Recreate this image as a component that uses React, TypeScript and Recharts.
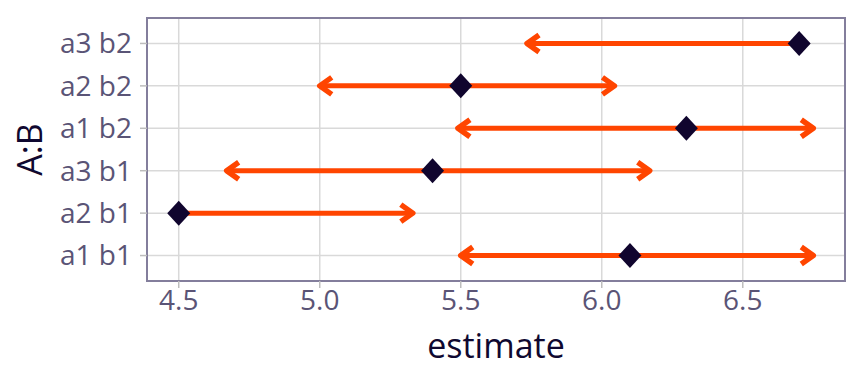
import {
  ScatterChart, Scatter, XAxis, YAxis, CartesianGrid, ReferenceArea,
} from 'recharts';

// rows from bottom (y = 1) to top (y = 6)
const rowLabels = ['a1 b1', 'a2 b1', 'a3 b1', 'a1 b2', 'a2 b2', 'a3 b2'];
const estimates = [6.1, 4.5, 5.4, 6.3, 5.5, 6.7];
// comparison arrow ends; null = no arrow on that side
const arrowLow: (number | null)[] = [5.5, null, 4.67, 5.49, 5.0, 5.735];
const arrowHigh: (number | null)[] = [6.75, 5.33, 6.17, 6.75, 6.045, null];

const xTicks = [4.5, 5.0, 5.5, 6.0, 6.5];
const yTicks = [1, 2, 3, 4, 5, 6];
const xDomain = [4.3875, 6.8625];
const yDomain = [0.4, 6.6];

const ARROW = '#ff4500';
const POINT = '#10052e';
const TEXT = '#5a5476';
const TITLE = '#0f0830';
const BORDER = '#837e9c';
const GRID = '#d9d9d9';
const FONT = '"Open Sans", sans-serif';

const pointData = estimates.map((x, i) => ({ x, y: i + 1 }));

const arrowRows = rowLabels.map((_, i) => {
  const y = i + 1;
  const lo = arrowLow[i];
  const hi = arrowHigh[i];
  return [
    lo == null ? { x: estimates[i], y, head: 'none' } : { x: lo, y, head: 'left' },
    hi == null ? { x: estimates[i], y, head: 'none' } : { x: hi, y, head: 'right' },
  ];
});

const ArrowHead = (props: any) => {
  const { cx, cy, payload } = props;
  if (!payload || payload.head === 'none') return <g />;
  const d = payload.head === 'left' ? 1 : -1;
  const len = 12;
  const half = 8.5;
  return (
    <polyline
      points={`${cx + d * len},${cy - half} ${cx},${cy} ${cx + d * len},${cy + half}`}
      fill="none"
      stroke={ARROW}
      strokeWidth={5.5}
      strokeLinejoin="round"
      strokeLinecap="butt"
    />
  );
};

const Diamond = (props: any) => {
  const { cx, cy } = props;
  const w = 11.5;
  const h = 12.5;
  return (
    <polygon
      points={`${cx},${cy - h} ${cx + w},${cy} ${cx},${cy + h} ${cx - w},${cy}`}
      fill={POINT}
    />
  );
};

export default function App() {
  return (
    <div style={{ position: 'absolute', left: 0, top: 0, width: 864, height: 384, background: '#fff' }}>
      <ScatterChart
        width={864}
        height={384}
        margin={{ top: 18, right: 19, bottom: 8, left: 0 }}
      >
        <CartesianGrid stroke={GRID} strokeWidth={1.5} />
        <XAxis
          type="number"
          dataKey="x"
          domain={xDomain}
          ticks={xTicks}
          allowDataOverflow
          tickFormatter={(v: number) => v.toFixed(1)}
          tick={{ fill: TEXT, fontSize: 28, fontFamily: FONT }}
          tickLine={{ stroke: '#bdbdbd', strokeWidth: 1.5 }}
          tickSize={7}
          tickMargin={2}
          axisLine={false}
          height={95}
          label={{
            value: 'estimate',
            position: 'insideBottom',
            offset: 18,
            fill: TITLE,
            fontSize: 34,
            fontFamily: FONT,
          }}
        />
        <YAxis
          type="number"
          dataKey="y"
          domain={yDomain}
          ticks={yTicks}
          allowDataOverflow
          tickFormatter={(v: number) => rowLabels[v - 1]}
          tick={{ fill: TEXT, fontSize: 28, fontFamily: FONT }}
          tickLine={{ stroke: '#bdbdbd', strokeWidth: 1.5 }}
          tickSize={7}
          tickMargin={8}
          axisLine={false}
          width={147}
          label={{
            value: 'A:B',
            angle: -90,
            position: 'insideLeft',
            offset: 30,
            fill: TITLE,
            fontSize: 34,
            fontFamily: FONT,
            style: { textAnchor: 'middle' },
          }}
        />
        <ReferenceArea
          x1={xDomain[0]}
          x2={xDomain[1]}
          y1={yDomain[0]}
          y2={yDomain[1]}
          fill="none"
          stroke={BORDER}
          strokeWidth={2}
          ifOverflow="visible"
        />
        {arrowRows.map((row, i) => (
          <Scatter
            key={rowLabels[i]}
            data={row}
            line={{ stroke: ARROW, strokeWidth: 5 }}
            shape={ArrowHead}
            isAnimationActive={false}
          />
        ))}
        <Scatter data={pointData} shape={Diamond} isAnimationActive={false} />
      </ScatterChart>
    </div>
  );
}
